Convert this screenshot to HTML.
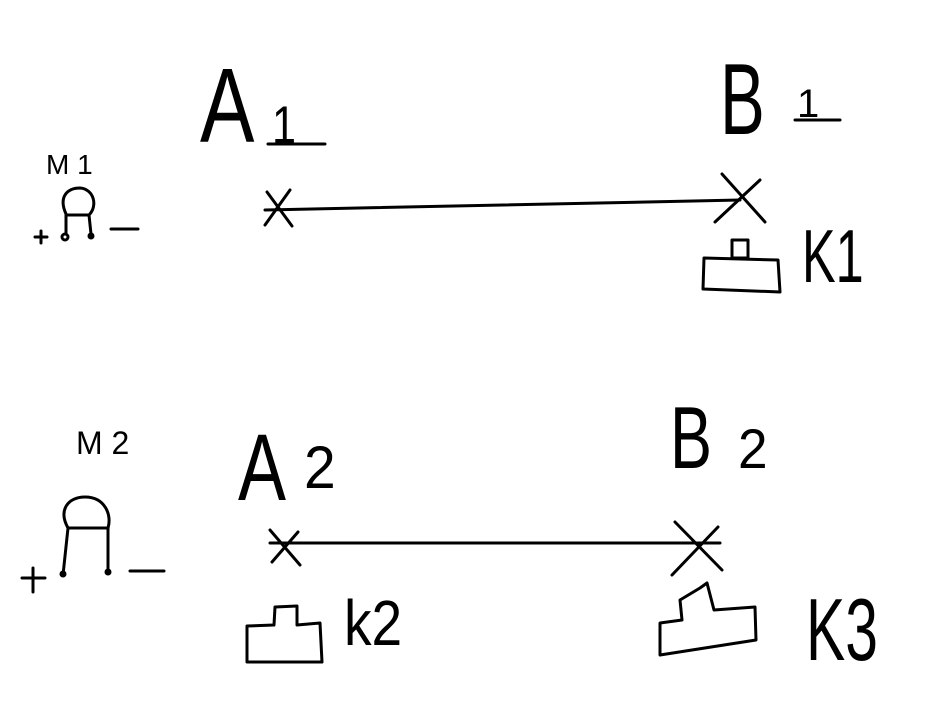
<!DOCTYPE html>
<html><head><meta charset="utf-8"><style>
html,body{margin:0;padding:0;background:#fff;}
svg{display:block}
text{font-family:"Liberation Sans",sans-serif;fill:#000;}
</style></head><body>
<svg width="928" height="724" viewBox="0 0 928 724" xmlns="http://www.w3.org/2000/svg">
<g fill="none" stroke="#000" stroke-width="3" stroke-linecap="round" stroke-linejoin="round">
<path d="M265 210 L740 200"/>
<path d="M267 192 L292 226 M290 190 L265 225"/>
<path d="M722 174 L765 222 M760 180 L715 222"/>
<path d="M268 144 L325 144"/>
<path d="M795 120 L840 120"/>
<!-- M1 symbol -->
<path d="M66 214 C58 196 68 188 80 188 C94 189 98 206 89 215 L66 215"/>
<path d="M66 215 L66 233 M89 215 L91 234"/>
<circle cx="65" cy="237" r="3"/>
<circle cx="91" cy="236" r="2" fill="#000"/>
<path d="M35 237 L47 237 M41 231 L41 243"/>
<path d="M111 229 L138 229"/>
<path d="M732 240 L748 240 L748 258 L732 258 Z"/>
<path d="M704 258 L778 260 L780 292 L703 289 Z"/>
<path d="M270 543 L720 543"/>
<path d="M270 530 L300 565 M298 532 L272 562"/>
<path d="M675 522 L722 570 M718 527 L672 575"/>
<path d="M68 528 C58 510 68 497 85 497 C105 497 112 515 108 528 L68 528"/>
<path d="M68 528 L63 575 M108 528 L108 570"/>
<circle cx="63" cy="574" r="2" fill="#000"/>
<circle cx="108" cy="572" r="2" fill="#000"/>
<path d="M22 578 L45 578 M33 568 L33 592"/>
<path d="M130 571 L164 571"/>
<path d="M274 625 L275 607 L297 606 L297 625 L320 623 L322 662 L247 662 L247 626 L274 625"/>
<path d="M660 623 L682 620 L680 600 L700 588 L707 583 L714 610 L755 607 L756 640 L660 655 Z"/>
</g>
<g style="font-weight:normal">
<text transform="translate(200,142) scale(0.85,1.1)" font-size="96">A</text>
<text transform="translate(272,143) scale(0.9,1.1)" font-size="48">1</text>
<text transform="translate(720,134) scale(0.7,1.05)" font-size="96">B</text>
<text x="797" y="117" font-size="40">1</text>
<text transform="translate(46,174)" font-size="28">M 1</text>
<text transform="translate(802,282) scale(0.7,1.05)" font-size="72">K1</text>
<text transform="translate(76,454)" font-size="32">M 2</text>
<text transform="translate(238,500) scale(0.8,1.05)" font-size="90">A</text>
<text transform="translate(304,488) scale(0.95,1)" font-size="60">2</text>
<text transform="translate(670,468) scale(0.75,1.05)" font-size="84">B</text>
<text transform="translate(738,468) scale(0.95,1)" font-size="56">2</text>
<text transform="translate(344,645) scale(0.95,1.1)" font-size="58">k2</text>
<text transform="translate(806,660) scale(0.7,1.05)" font-size="84">K3</text>
</g>
</svg>
</body></html>
